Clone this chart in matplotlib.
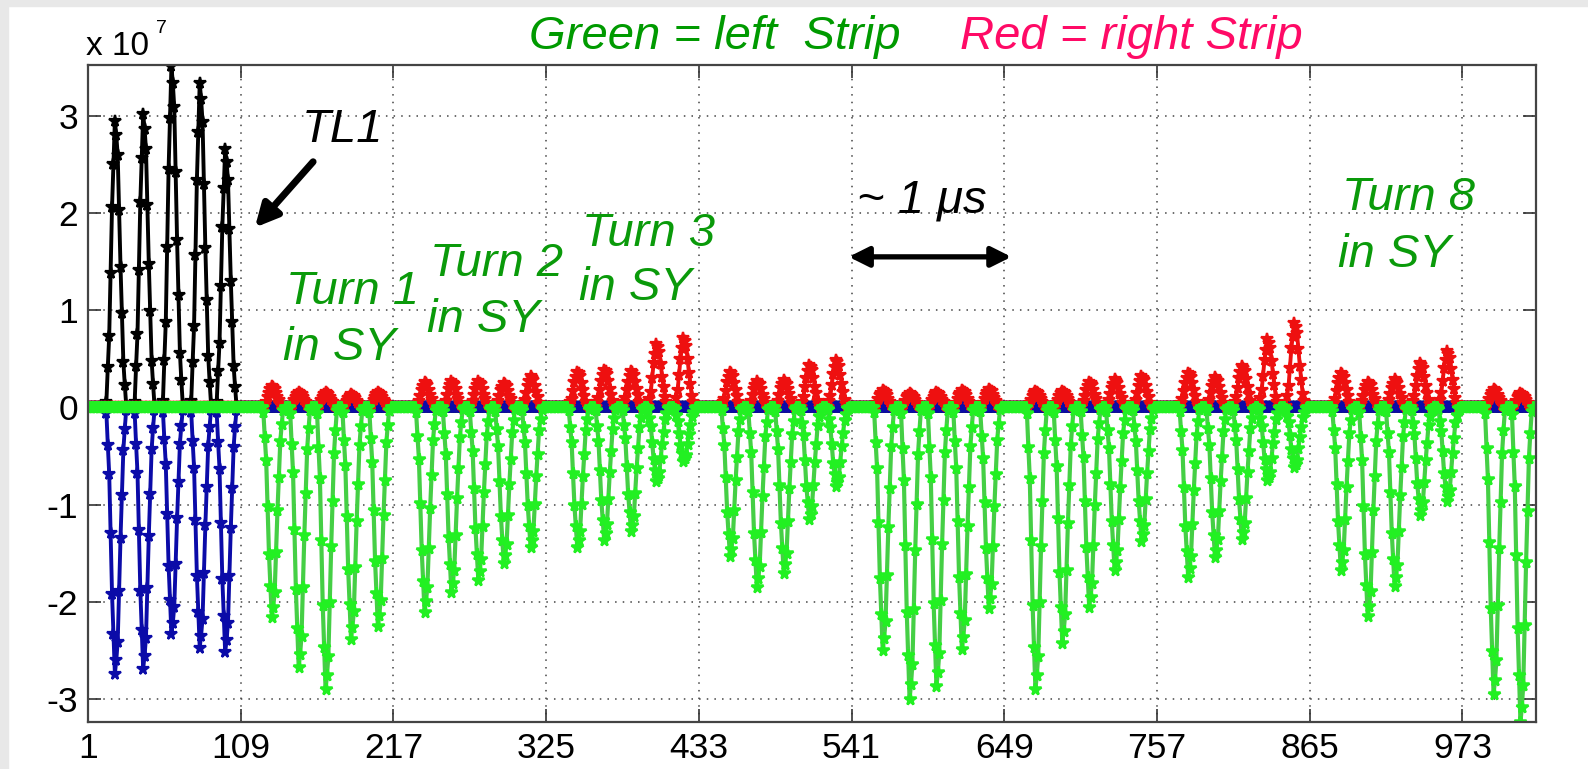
import numpy as np
import matplotlib.pyplot as plt
from matplotlib.patches import Rectangle

# values in units of 1e7
n_samples = 1025
tl1_centers = [20, 40, 60, 80, 98]
tl1_right = [2.95, 3.02, 3.51, 3.34, 2.66]      # black
tl1_left = [-2.74, -2.69, -2.33, -2.47, -2.52]  # blue

turn_start = [131, 239, 347, 455, 563, 671, 779, 887, 995]
bunch_offset = [0, 19, 38, 56, 75]

sy_right = [  # red
    [0.22, 0.16, 0.16, 0.14, 0.16],
    [0.26, 0.27, 0.27, 0.25, 0.32],
    [0.37, 0.39, 0.38, 0.65, 0.72],
    [0.37, 0.27, 0.28, 0.44, 0.49],
    [0.18, 0.15, 0.16, 0.18, 0.19],
    [0.17, 0.17, 0.26, 0.29, 0.32],
    [0.36, 0.31, 0.43, 0.70, 0.87],
    [0.36, 0.26, 0.29, 0.46, 0.58],
    [0.19, 0.15],
]
sy_left = [  # green
    [-2.16, -2.67, -2.90, -2.38, -2.25],
    [-2.10, -1.90, -1.77, -1.60, -1.44],
    [-1.44, -1.36, -1.27, -0.76, -0.55],
    [-1.53, -1.85, -1.70, -1.15, -0.81],
    [-2.50, -3.00, -2.87, -2.49, -2.06],
    [-2.90, -2.42, -2.05, -1.67, -1.37],
    [-1.74, -1.54, -1.35, -0.75, -0.61],
    [-1.67, -2.15, -1.84, -1.11, -0.96],
    [-2.95, -3.24],
]

# normalised pulse samples (from the first TL1 bunch), peak at index 6
pulse = [0.02, 0.14, 0.25, 0.47, 0.70, 0.85, 1.0, 0.95, 0.88, 0.69,
         0.49, 0.33, 0.16, 0.08, 0.01]

xticks = [1, 109, 217, 325, 433, 541, 649, 757, 865, 973]
yticks = [-3, -2, -1, 0, 1, 2, 3]


def build(centers, amps):
    y = np.zeros(n_samples)
    for c, a in zip(centers, amps):
        s = c - 1 - 6
        for k in range(len(pulse)):
            if 0 <= s + k < n_samples:
                y[s + k] += a * pulse[k]
    return y


x = np.arange(1, n_samples + 1)
sy_centers = []
sy_r = []
sy_l = []
for t in range(len(turn_start)):
    for b in range(len(sy_right[t])):
        sy_centers.append(turn_start[t] + bunch_offset[b])
        sy_r.append(sy_right[t][b])
        sy_l.append(sy_left[t][b])

black = build(tl1_centers, tl1_right)
blue = build(tl1_centers, tl1_left)
red = build(sy_centers, sy_r)
green = build(sy_centers, sy_l)

plt.rcParams['font.family'] = ['Liberation Sans', 'DejaVu Sans']

fig = plt.figure(figsize=(15.88, 7.69), dpi=100)
fig.patch.set_facecolor('white')
fig.patches.append(Rectangle((0, 0), 8 / 1588, 1, transform=fig.transFigure,
                             color='#e8e8e8', zorder=0))
fig.patches.append(Rectangle((0, 1 - 6 / 769), 1, 6 / 769, transform=fig.transFigure,
                             color='#e8e8e8', zorder=0))

ax = fig.add_axes([88 / 1588, 1 - 722 / 769, (1536 - 88) / 1588, (722 - 65) / 769])

kw = dict(lw=2.8, marker='*', markersize=8.5, markeredgewidth=1.6)
ax.plot(x, black, color='black', **kw)
ax.plot(x, blue, color='#0b0ba8', **kw)
ax.plot(x, red, color='#ee1010', **kw)
ax.plot(x, green, color='#45cf45', markeredgecolor='#22f022', markerfacecolor='#22f022',
        lw=3, marker='*', markersize=8.5, markeredgewidth=1.8)

ax.set_xlim(1, n_samples)
ax.set_ylim(-3.236, 3.524)
ax.set_xticks(xticks)
ax.set_xticklabels([str(v) for v in xticks])
ax.set_yticks(yticks)
ax.set_yticklabels([str(v) for v in yticks])
ax.tick_params(direction='in', length=9.5, width=1.2, labelsize=25.5, pad=7,
               top=True, right=True, colors='#333333', labelcolor='black')
ax.grid(True, color='#444444', linestyle=(0, (1, 4)), lw=1.1)
for sp in ax.spines.values():
    sp.set_linewidth(1.6)
    sp.set_color('#444444')

# offset label
fig.text(86 / 1588, 1 - 55 / 769, 'x 10', fontsize=24, va='baseline')
fig.text(156 / 1588, 1 - 33 / 769, '7', fontsize=14, va='baseline')

# header
fig.text(529 / 1588, 1 - 49 / 769, 'Green = left  Strip', fontsize=34, style='italic',
         color='#009a00', va='baseline')
fig.text(960 / 1588, 1 - 49 / 769, 'Red = right Strip', fontsize=34, style='italic',
         color='#ff0a66', va='baseline')

tk = dict(fontsize=34, style='italic', va='baseline')
green_txt = '#0a9a0a'
ax.text(152, 2.73, 'TL1', color='black', **tk)
ax.annotate('', xy=(117.7, 1.83), xytext=(161.5, 2.55),
            arrowprops=dict(arrowstyle='-|>', lw=5, color='black', mutation_scale=34))

ax.text(141, 1.065, 'Turn 1', color=green_txt, **tk)
ax.text(139, 0.49, 'in SY', color=green_txt, **tk)
ax.text(243, 1.35, 'Turn 2', color=green_txt, **tk)
ax.text(241, 0.78, 'in SY', color=green_txt, **tk)
ax.text(350, 1.66, 'Turn 3', color=green_txt, **tk)
ax.text(348, 1.11, 'in SY', color=green_txt, **tk)
ax.text(888, 2.03, 'Turn 8', color=green_txt, **tk)
ax.text(885, 1.45, 'in SY', color=green_txt, **tk)

ax.text(545, 2.01, '~ 1 \u03bcs', color='black', fontsize=34, style='italic', va='baseline')
ax.annotate('', xy=(537, 1.55), xytext=(656, 1.55),
            arrowprops=dict(arrowstyle='<|-|>', lw=3.8, color='black', mutation_scale=30))

fig.savefig('out.png', dpi=100)
